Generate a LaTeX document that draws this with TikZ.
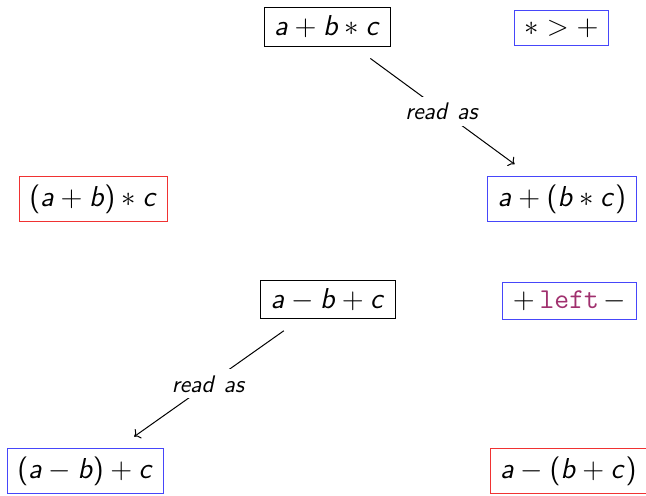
\documentclass[tikz,border=0pt]{standalone}
\usetikzlibrary{arrows.meta}
\DeclareSymbolFont{sfletters}{OT1}{cmss}{m}{sl}
\DeclareSymbolFont{sfops}{OT1}{cmss}{m}{n}
\DeclareMathSymbol{a}{\mathalpha}{sfletters}{`a}
\DeclareMathSymbol{b}{\mathalpha}{sfletters}{`b}
\DeclareMathSymbol{c}{\mathalpha}{sfletters}{`c}
\DeclareMathSymbol{d}{\mathalpha}{sfletters}{`d}
\DeclareMathSymbol{e}{\mathalpha}{sfletters}{`e}
\DeclareMathSymbol{r}{\mathalpha}{sfletters}{`r}
\DeclareMathSymbol{s}{\mathalpha}{sfletters}{`s}
\DeclareMathDelimiter{(}{\mathopen}{sfops}{"28}{largesymbols}{"00}
\DeclareMathDelimiter{)}{\mathclose}{sfops}{"29}{largesymbols}{"01}
\definecolor{codepurple}{RGB}{160,48,110}
\definecolor{bblue}{RGB}{70,70,250}
\definecolor{rred}{RGB}{240,50,50}
\begin{document}
\begin{tikzpicture}[x=0.5pt,y=-0.5pt,
  termbox/.style={draw, inner xsep=5pt, inner ysep=4pt, font=\Large, line width=0.5pt},
  bluebox/.style={termbox, draw=bblue},
  redbox/.style={termbox, draw=rred},
  readas/.style={->, line width=0.5pt, shorten >=10pt, shorten <=10pt},
  lbl/.style={midway, fill=white, inner sep=3pt, font=\large}]
\useasboundingbox (0,0) rectangle (646,495);
\node[termbox] (e1) at (327.5,27) {$a+b*c$};
\node[bluebox] (p1) at (561.5,28) {$*>+$};
\node[redbox]  (w1) at (93.5,199) {$(a+b)*c$};
\node[bluebox] (r1) at (562,199) {$a+(b*c)$};
\node[termbox] (e2) at (328,299.5) {$a-b+c$};
\node[bluebox] (p2) at (569.5,301) {$+\,\textcolor{codepurple}{\texttt{left}}\,-$};
\node[bluebox] (r2) at (85.5,471) {$(a-b)+c$};
\node[redbox]  (w2) at (568.5,471) {$a-(b+c)$};
\draw[readas] (e1) -- node[lbl] {$read~as$} (r1);
\draw[readas] (e2) -- node[lbl] {$read~as$} (r2);
\end{tikzpicture}
\end{document}
